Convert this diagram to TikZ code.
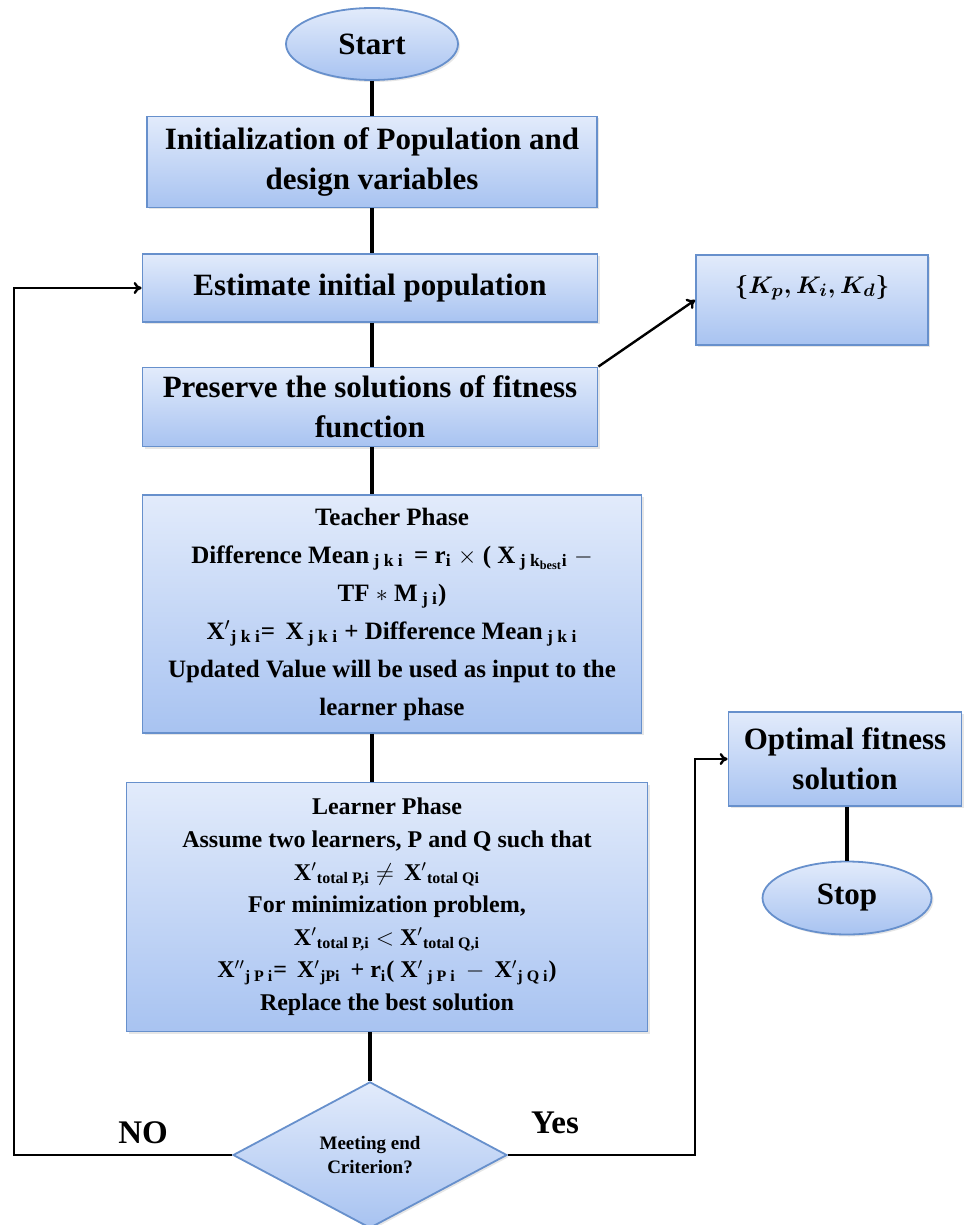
\documentclass[tikz,border=0pt]{standalone}
\usepackage{fontspec}
\setmainfont{Liberation Serif}
\usetikzlibrary{shapes.geometric,arrows.meta,shadows}
\definecolor{boxtop}{HTML}{E2EBFB}
\definecolor{boxbottom}{HTML}{A8C3F1}
\definecolor{boxline}{HTML}{6790CC}

\begin{document}
\begin{tikzpicture}[x=0.5pt,y=-0.5pt,
	blockfill/.style={draw=boxline,line width=0.9pt,top color=boxtop,bottom color=boxbottom,drop shadow={opacity=0.2,shadow xshift=1pt,shadow yshift=-1pt}},
	block/.style={blockfill,rectangle,align=center,font=\bfseries\fontsize{15.5}{20}\selectfont,inner sep=3pt},
	phase/.style={block,font=\bfseries\fontsize{12.5}{19}\selectfont},
	terminal/.style={blockfill,ellipse,font=\bfseries\fontsize{15.5}{18}\selectfont,minimum width=86pt,minimum height=36pt},
	decision/.style={blockfill,diamond,align=center,font=\bfseries\fontsize{9.5}{12}\selectfont,minimum width=137pt,minimum height=70pt,inner sep=1pt},
	spine/.style={line width=2pt},
	flow/.style={line width=1.2pt,-{To[length=4pt,width=6pt]}},
	answer/.style={font=\bfseries\fontsize{16.5}{18}\selectfont}]
	\useasboundingbox (0,0) rectangle (967,1225);
	\node[terminal] (start) at (372,44) {Start};
	\node[block,minimum width=225pt,minimum height=45.5pt] (init) at (372,162) {Initialization of Population and\\design variables};
	\node[block,minimum width=227.5pt,minimum height=34pt] (estimate) at (370,288) {Estimate initial population};
	\node[block,minimum width=227.5pt,minimum height=39.5pt] (preserve) at (370,407) {Preserve the solutions of fitness\\function};
	\node[block,minimum width=116pt,text height=16pt,text depth=23pt,font=\bfseries\boldmath\fontsize{12.5}{15}\selectfont] (gains) at (812,300) {$\lbrace K_p, K_i, K_d\rbrace$};
	\node[phase,minimum width=249.5pt,minimum height=119pt] (teacher) at (392,614) {Teacher Phase\\
		Difference Mean\textsubscript{ j k i} \,= r\textsubscript{i} $\times$ ( X\textsubscript{ j k\textsubscript{best}i} $-$\\
		TF $*$ M\textsubscript{ j i})\\
		X$'$\textsubscript{j k i}= \,X\textsubscript{ j k i} + Difference Mean\textsubscript{ j k i}\\
		Updated Value will be used as input to the\\
		learner phase};
	\node[phase,minimum width=260.5pt,minimum height=124.5pt,font=\bfseries\fontsize{12}{16.3}\selectfont] (learner) at (387,907) {Learner Phase\\
		Assume two learners, P and Q such that\\
		X$'$\textsubscript{total P,i} $\neq$ \,X$'$\textsubscript{total Qi}\\
		For minimization problem,\\
		X$'$\textsubscript{total P,i} $<$ X$'$\textsubscript{total Q,i}\\
		X$''$\textsubscript{j P i}= \,X$'$\textsubscript{jPi} \,+ r\textsubscript{i}( X$'$\textsubscript{ j P i} \,$-$ \,X$'$\textsubscript{j Q i})\\
		Replace the best solution};
	\node[decision] (check) at (370,1155) {Meeting end\\Criterion?};
	\node[block,minimum width=116.5pt,minimum height=47pt] (optimal) at (845,759) {Optimal fitness\\solution};
	\node[terminal,minimum width=84.5pt,minimum height=36.5pt] (stop) at (847,898) {Stop};
	\node[answer] (no) at (143,1133) {NO};
	\node[answer] (yes) at (555,1123) {Yes};
	\coordinate (loopl) at (14,1158);
	\coordinate (loopr) at (695,1158);
	\draw[spine] (start.south) -- (start.south |- init.north);
	\draw[spine] (init.south -| start.south) -- (estimate.north -| start.south);
	\draw[spine] (estimate.south -| start.south) -- (preserve.north -| start.south);
	\draw[spine] (preserve.south -| start.south) -- (teacher.north -| start.south);
	\draw[spine] (teacher.south -| start.south) -- (learner.north -| start.south);
	\draw[spine] (learner.south -| check.north) -- (check.north);
	\draw[spine] (optimal.south -| stop.north) -- (stop.north);
	\draw[flow] (preserve.north east) -- (gains.west);
	\draw[flow] (check.west) -- (check.west -| loopl) |- (estimate.west);
	\draw[flow] (check.east) -- (check.east -| loopr) |- (optimal.west);
\end{tikzpicture}
\end{document}
